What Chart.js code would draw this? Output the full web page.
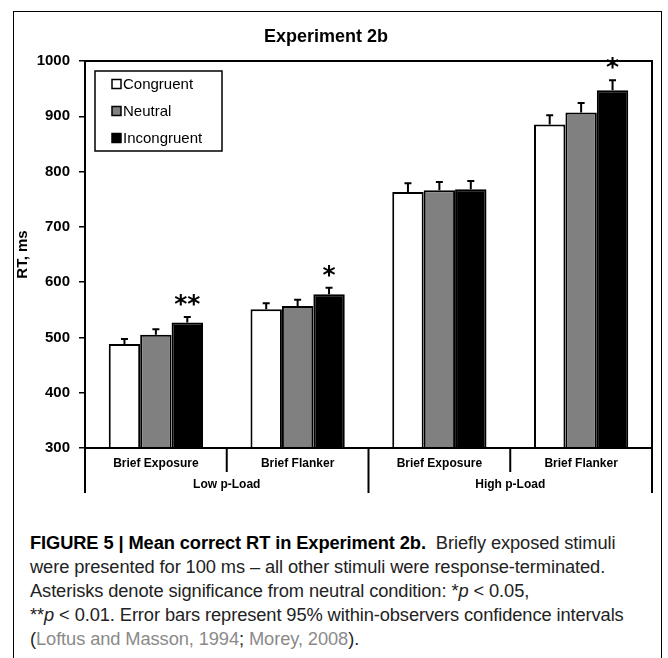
<!DOCTYPE html>
<html>
<head>
<meta charset="utf-8">
<script src="https://cdn.jsdelivr.net/npm/chart.js@4.4.1/dist/chart.umd.min.js"></script>
<style>
  html, body { margin: 0; padding: 0; background: #fff; }
  body { width: 668px; height: 658px; position: relative; overflow: hidden; font-family: "Liberation Sans", Arial, sans-serif; }
  #frame { position: absolute; left: 13px; top: 11px; width: 649px; height: 700px; border: 1px solid #000; box-sizing: border-box; }
  #wrap { position: absolute; left: 0; top: 0; width: 668px; height: 520px; }
  #caption { position: absolute; left: 30px; top: 531px; font-size: 18.3px; line-height: 24px; color: #222; white-space: nowrap; letter-spacing: -0.1px; }
  #caption b { color: #000; }
  #caption .ref { color: #8a8a8a; }
</style>
</head>
<body>
<div id="frame"></div>
<div id="wrap"><canvas id="c" width="668" height="520"></canvas></div>
<div id="caption">
<b>FIGURE 5 | Mean correct RT in Experiment 2b.</b>&nbsp; Briefly exposed stimuli<br>
were presented for 100 ms – all other stimuli were response-terminated.<br>
Asterisks denote significance from neutral condition: *<i>p</i> &lt; 0.05,<br>
**<i>p</i> &lt; 0.01. Error bars represent 95% within-observers confidence intervals<br>
(<span class="ref">Loftus and Masson, 1994</span>; <span class="ref">Morey, 2008</span>).
</div>
<script>
// ---- data ----
const categories = ['Brief Exposure', 'Brief Flanker', 'Brief Exposure', 'Brief Flanker'];
const groupLabels = ['Low p-Load', 'High p-Load'];
const groupSpans = [2, 2];
const seriesNames = ['Congruent', 'Neutral', 'Incongruent'];
const congruent = [488, 551, 763, 885];
const neutral = [505, 557, 766, 907];
const incongruent = [527, 578, 768, 947];
const congruentErr = [9, 11, 16, 17];
const neutralErr = [10, 11, 15, 17];
const incongruentErr = [10, 12, 15, 18];
const incongruentSig = ['**', '*', '', '*'];
const yTicks = [300, 400, 500, 600, 700, 800, 900, 1000];

const colors = ['#ffffff', '#808080', '#000000'];
const errs = [congruentErr, neutralErr, incongruentErr];
const sigs = [null, null, incongruentSig];

const framePlugin = {
  id: 'frameAndExtras',
  afterDatasetsDraw(chart) {
    const ctx = chart.ctx;
    const ys = chart.scales.y;
    chart.data.datasets.forEach((ds, di) => {
      const meta = chart.getDatasetMeta(di);
      meta.data.forEach((bar, j) => {
        const top = ys.getPixelForValue(ds.data[j] + errs[di][j]);
        ctx.save();
        ctx.strokeStyle = '#000';
        ctx.lineWidth = 2;
        ctx.beginPath();
        ctx.moveTo(bar.x, bar.y);
        ctx.lineTo(bar.x, top);
        ctx.moveTo(bar.x - 3.5, top);
        ctx.lineTo(bar.x + 3.5, top);
        ctx.stroke();
        if (sigs[di] && sigs[di][j]) {
          ctx.font = 'bold 25px "DejaVu Sans"';
          ctx.fillStyle = '#000';
          ctx.textAlign = 'center';
          ctx.textBaseline = 'alphabetic';
          const m = ctx.measureText(sigs[di][j]);
          const h = m.actualBoundingBoxAscent - m.actualBoundingBoxDescent;
          const cy = top - 11;
          ctx.fillText(sigs[di][j], bar.x, cy + m.actualBoundingBoxAscent - h / 2);
        }
        ctx.restore();
      });
    });
  },
  afterDraw(chart) {
    const ctx = chart.ctx;
    const a = chart.chartArea;
    const n = categories.length;
    const step = (a.right - a.left) / n;
    ctx.save();
    ctx.strokeStyle = '#000';
    ctx.lineWidth = 2;
    ctx.strokeRect(a.left, a.top, a.right - a.left, a.bottom - a.top);
    let idx = 0;
    const boundaries = [0];
    groupSpans.forEach(s => { idx += s; boundaries.push(idx); });
    for (let k = 0; k <= n; k++) {
      const x = a.left + k * step;
      const isGroup = boundaries.includes(k);
      ctx.beginPath();
      ctx.moveTo(x, a.bottom);
      ctx.lineTo(x, a.bottom + (isGroup ? 45 : 24));
      ctx.stroke();
    }
    ctx.font = 'bold 12px "Liberation Sans", Arial, sans-serif';
    ctx.fillStyle = '#000';
    ctx.textAlign = 'center';
    ctx.textBaseline = 'middle';
    for (let g = 0; g < groupLabels.length; g++) {
      const x0 = a.left + boundaries[g] * step;
      const x1 = a.left + boundaries[g + 1] * step;
      ctx.fillText(groupLabels[g], (x0 + x1) / 2, a.bottom + 36.5);
    }
    const lx = 95, ly = 71, lw = 127, lh = 80;
    ctx.fillStyle = '#fff';
    ctx.fillRect(lx, ly, lw, lh);
    ctx.lineWidth = 1.5;
    ctx.strokeRect(lx, ly, lw, lh);
    ctx.font = '15px "Liberation Sans", Arial, sans-serif';
    ctx.textAlign = 'left';
    chart.data.datasets.forEach((ds, i) => {
      const cy = 84 + i * 27;
      ctx.fillStyle = ds.backgroundColor;
      ctx.fillRect(112, cy - 4.5, 9, 9);
      ctx.lineWidth = 1.5;
      ctx.strokeRect(112, cy - 4.5, 9, 9);
      ctx.fillStyle = '#000';
      ctx.fillText(ds.label, 123, cy + 0.5);
    });
    ctx.restore();
  }
};

new Chart(document.getElementById('c'), {
  type: 'bar',
  data: {
    labels: categories,
    datasets: [
      { label: seriesNames[0], data: congruent, backgroundColor: colors[0] },
      { label: seriesNames[1], data: neutral, backgroundColor: colors[1] },
      { label: seriesNames[2], data: incongruent, backgroundColor: colors[2] }
    ]
  },
  options: {
    responsive: false,
    animation: false,
    events: [],
    layout: { padding: { left: 0, right: 16, top: 0, bottom: 0 } },
    datasets: {
      bar: {
        borderColor: '#000',
        borderWidth: 2,
        categoryPercentage: 0.665,
        barPercentage: 1.0
      }
    },
    plugins: {
      legend: { display: false },
      tooltip: { enabled: false },
      title: {
        display: true,
        text: 'Experiment 2b',
        color: '#000',
        font: { family: '"Liberation Sans", Arial, sans-serif', size: 18, weight: 'bold', lineHeight: 1.2 },
        padding: { top: 26, bottom: 13.4 }
      }
    },
    scales: {
      x: {
        afterFit(s) { s.height = 72; },
        grid: { display: false, drawTicks: false },
        border: { display: false },
        ticks: {
          color: '#000',
          font: { family: '"Liberation Sans", Arial, sans-serif', size: 12, weight: 'bold' },
          padding: 8,
          maxRotation: 0,
          autoSkip: false
        }
      },
      y: {
        min: 300,
        max: 1000,
        afterFit(s) { s.width = 85; },
        afterBuildTicks(s) { s.ticks = yTicks.map(v => ({ value: v })); },
        grid: { drawOnChartArea: false, drawTicks: true, tickLength: 6, color: '#000', lineWidth: 1.5 },
        border: { display: false },
        ticks: {
          color: '#000',
          font: { family: '"Liberation Sans", Arial, sans-serif', size: 15, weight: 'bold' },
          padding: 9,
          callback: v => String(v)
        },
        title: {
          display: true,
          text: 'RT, ms',
          color: '#000',
          font: { family: '"Liberation Sans", Arial, sans-serif', size: 15, weight: 'bold', lineHeight: 1.2 },
          padding: { top: 14, bottom: 0 }
        }
      }
    }
  },
  plugins: [framePlugin]
});
</script>
</body>
</html>
